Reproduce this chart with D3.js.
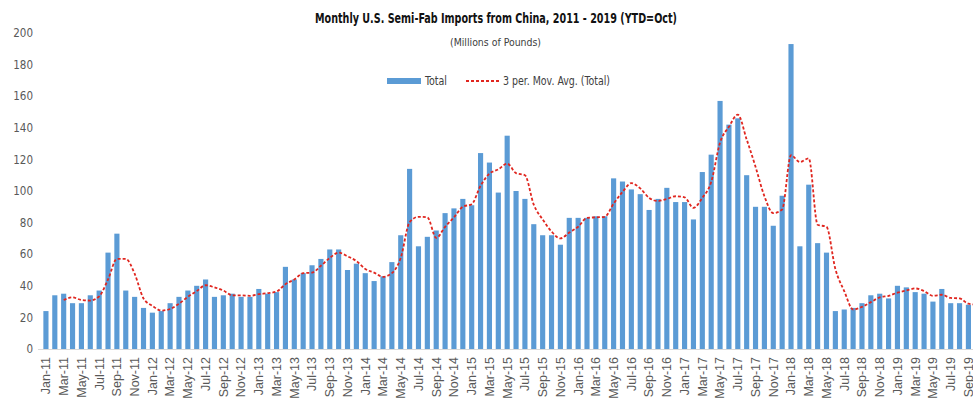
<!DOCTYPE html>
<html>
<head>
<meta charset="utf-8">
<script src="https://cdn.jsdelivr.net/npm/d3@7"></script>
<style>
  body { margin: 0; background: #fff; }
  svg { display: block; }
</style>
</head>
<body>
<div id="chart"></div>
<script>
var w = 973, h = 408;

// monthly totals, millions of pounds
var months = ["Jan","Feb","Mar","Apr","May","Jun","Jul","Aug","Sep","Oct","Nov","Dec"];
var years = ["11","12","13","14","15","16","17","18","19"];
var total2011 = [24, 34, 35, 29, 29, 34, 37, 61, 73, 37, 33, 26];
var total2012 = [23, 24, 29, 33, 37, 40, 44, 33, 34, 35, 33, 33];
var total2013 = [38, 35, 36, 52, 44, 48, 53, 57, 63, 63, 50, 54];
var total2014 = [48, 43, 46, 55, 72, 114, 65, 71, 75, 86, 89, 95];
var total2015 = [91, 124, 118, 99, 135, 100, 95, 79, 72, 72, 66, 83];
var total2016 = [83, 83, 84, 84, 108, 106, 101, 98, 88, 95, 102, 93];
var total2017 = [93, 82, 112, 123, 157, 142, 146, 110, 90, 90, 78, 97];
var total2018 = [193, 65, 104, 67, 61, 24, 25, 26, 29, 34, 35, 32];
var total2019 = [40, 39, 36, 35, 30, 38, 29, 29, 28, 27];
var yTicks = [0, 20, 40, 60, 80, 100, 120, 140, 160, 180, 200];

var totals = [].concat(total2011, total2012, total2013, total2014, total2015,
  total2016, total2017, total2018, total2019);
var labels = totals.map(function(d, i) {
  return months[i % 12] + "-" + years[Math.floor(i / 12)];
});

// Excel "3 per. Mov. Avg." trendline of the totals above
var movAvg = totals.map(function(d, i) {
  if (i < 2) return null;
  return (totals[i] + totals[i - 1] + totals[i - 2]) / 3;
});

var svg = d3.select("#chart").append("svg")
  .attr("width", w)
  .attr("height", h);

var xScale = d3.scaleBand()
  .domain(labels)
  .range([41.5, 41.5 + labels.length * 8.87])
  .paddingInner(0.42)
  .paddingOuter(0.21);

var yScale = d3.scaleLinear()
  .domain([0, 200])
  .range([349, 33]);

var narrow = "'Liberation Sans Narrow', 'DejaVu Sans Condensed', sans-serif";

// title (squeezed to mimic the condensed original font)
svg.append("text")
  .attr("x", 315)
  .attr("y", 23)
  .attr("font-family", narrow)
  .attr("font-weight", "bold")
  .attr("font-size", "14px")
  .attr("fill", "#111")
  .attr("textLength", 362)
  .attr("lengthAdjust", "spacingAndGlyphs")
  .text("Monthly U.S. Semi-Fab Imports from China, 2011 - 2019 (YTD=Oct)");

svg.append("text")
  .attr("x", 450)
  .attr("y", 46)
  .attr("font-family", narrow)
  .attr("font-size", "11px")
  .attr("fill", "#404040")
  .attr("textLength", 91)
  .attr("lengthAdjust", "spacingAndGlyphs")
  .text("(Millions of Pounds)");

// bars
svg.selectAll("rect.bar")
  .data(totals)
  .enter()
  .append("rect")
  .attr("class", "bar")
  .attr("x", function(d, i) { return xScale(labels[i]); })
  .attr("y", function(d) { return yScale(d); })
  .attr("width", xScale.bandwidth())
  .attr("height", function(d) { return yScale(0) - yScale(d); })
  .attr("fill", "#5b9bd5");

// moving average
var line = d3.line()
  .defined(function(d) { return d != null; })
  .x(function(d, i) { return xScale(labels[i]) + xScale.bandwidth() / 2; })
  .y(function(d) { return yScale(d); })
  .curve(d3.curveMonotoneX);

svg.append("path")
  .datum(movAvg)
  .attr("d", line)
  .attr("fill", "none")
  .attr("stroke", "#e0261f")
  .attr("stroke-width", 1.8)
  .attr("stroke-dasharray", "3,2");

// y axis
var yAxis = d3.axisLeft(yScale)
  .tickValues(yTicks)
  .tickSize(0)
  .tickPadding(0);

var gy = svg.append("g")
  .attr("transform", "translate(33,0)")
  .call(yAxis);
gy.select(".domain").remove();
gy.selectAll("text")
  .attr("font-family", narrow)
  .attr("font-size", "11.5px")
  .attr("fill", "#595959");

// x axis, every other month labelled
var xAxis = d3.axisBottom(xScale)
  .tickValues(labels.filter(function(d, i) { return i % 2 === 0; }))
  .tickSize(0)
  .tickPadding(0);

var gx = svg.append("g")
  .attr("transform", "translate(0,349)")
  .call(xAxis);
gx.select(".domain")
  .attr("stroke", "#d9d9d9")
  .attr("d", "M38,0.5H" + w);
gx.selectAll("text")
  .attr("font-family", "'Liberation Sans', Arial, sans-serif")
  .attr("font-size", "12.5px")
  .attr("fill", "#595959")
  .attr("text-anchor", "end")
  .attr("transform", "rotate(-90)")
  .attr("x", -8)
  .attr("y", 0)
  .attr("dy", "0.35em");

// legend
var legend = svg.append("g");
legend.append("rect")
  .attr("x", 387)
  .attr("y", 78)
  .attr("width", 34)
  .attr("height", 6)
  .attr("fill", "#5b9bd5");
legend.append("text")
  .attr("x", 425)
  .attr("y", 85)
  .attr("font-family", narrow)
  .attr("font-size", "12px")
  .attr("fill", "#404040")
  .attr("textLength", 22)
  .attr("lengthAdjust", "spacingAndGlyphs")
  .text("Total");
legend.append("line")
  .attr("x1", 466)
  .attr("x2", 501)
  .attr("y1", 81)
  .attr("y2", 81)
  .attr("stroke", "#e0261f")
  .attr("stroke-width", 1.8)
  .attr("stroke-dasharray", "3,2");
legend.append("text")
  .attr("x", 503)
  .attr("y", 85)
  .attr("font-family", narrow)
  .attr("font-size", "12px")
  .attr("fill", "#404040")
  .attr("textLength", 107)
  .attr("lengthAdjust", "spacingAndGlyphs")
  .text("3 per. Mov. Avg. (Total)");
</script>
</body>
</html>
